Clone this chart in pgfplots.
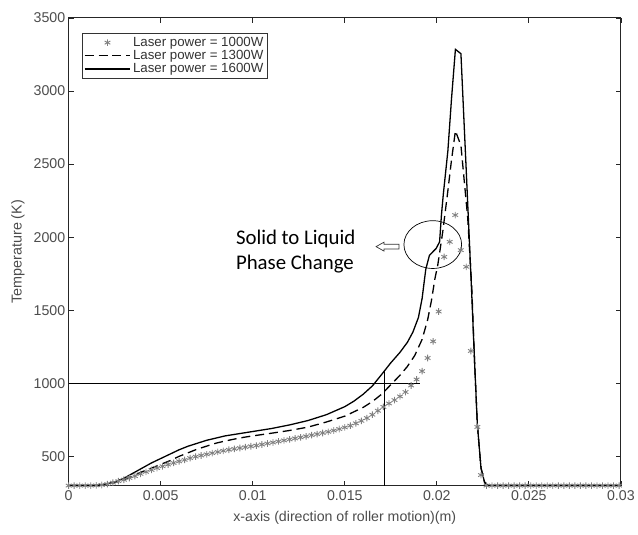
\documentclass[border=0pt]{standalone}
\usepackage{fontspec}
\setmainfont{Liberation Sans}
\newfontfamily\calfont{Carlito}
\usepackage{pgfplots}
\pgfplotsset{compat=1.18}
\begin{document}
\begin{tikzpicture}
\begin{axis}[
  name=ax,
  scale only axis, width=555bp, height=470bp,
  xmin=0, xmax=0.03, ymin=300, ymax=3500,
  xtick={0,0.005,0.01,0.015,0.02,0.025,0.03},
  xticklabels={0,0.005,0.01,0.015,0.02,0.025,0.03},
  ytick={500,1000,1500,2000,2500,3000,3500},
  scaled x ticks=false,
  /pgf/number format/assume math mode=true,
  /pgf/number format/set thousands separator={},
  tick align=inside, major tick length=5bp,
  xtick pos=both, ytick pos=both,
  axis line style={black!85, line width=0.9bp},
  tick style={black!85, line width=0.8bp},
  ticklabel style={font=\fontsize{14.3}{16}\selectfont, text=black!70},
  xticklabel style={yshift=-2bp},
  legend style={at={(0,1)}, anchor=north west, xshift=13bp, yshift=-15bp,
    font=\fontsize{13.4}{15}\selectfont, text=black!80, draw=black!80, line width=0.8bp,
    inner sep=2bp, row sep=-1.5bp, cells={anchor=west}},
  legend image code/.code={\draw[mark repeat=2,mark phase=2,#1] plot coordinates {(0bp,0bp) (23bp,0bp) (46bp,0bp)};},
]
% 1000 W (stars)
\addplot[only marks, mark=asterisk, mark size=3.3bp, color=black!50, mark options={line width=0.9bp}] coordinates {
(0.0000,300) (0.0003,300) (0.0006,300) (0.0009,300) (0.0012,300) (0.0015,301)
(0.0018,304) (0.0021,310) (0.0024,320) (0.0027,330) (0.0030,340) (0.0033,352)
(0.0036,365) (0.0039,380) (0.0042,394) (0.0045,407) (0.0048,420) (0.0051,432)
(0.0054,444) (0.0057,455) (0.0060,466) (0.0063,476) (0.0066,488) (0.0069,498)
(0.0072,506) (0.0075,514) (0.0078,522) (0.0081,530) (0.0084,538) (0.0087,545)
(0.0090,551) (0.0093,557) (0.0096,563) (0.0099,569) (0.0102,574) (0.0105,581)
(0.0108,588) (0.0111,595) (0.0114,602) (0.0117,609) (0.0120,616) (0.0123,623)
(0.0126,630) (0.0129,637) (0.0132,645) (0.0135,652) (0.0138,660) (0.0141,668)
(0.0144,677) (0.0147,687) (0.0150,698) (0.0153,710) (0.0156,726) (0.0159,743)
(0.0162,762) (0.0165,785) (0.0168,812) (0.0171,838) (0.0174,862) (0.0177,885)
(0.0180,910) (0.0183,940) (0.0186,985) (0.0189,1026) (0.0192,1083) (0.0195,1173)
(0.0198,1287) (0.0201,1491) (0.0204,1865) (0.0207,1968) (0.0210,2151) (0.0213,1911)
(0.0216,1797) (0.02185,1221) (0.0222,701) (0.0224,372) (0.0227,300) (0.0230,300)
(0.0233,300) (0.0236,300) (0.0239,300) (0.0242,300) (0.0245,300) (0.0248,300)
(0.0251,300) (0.0254,300) (0.0257,300) (0.0260,300) (0.0263,300) (0.0266,300)
(0.0269,300) (0.0272,300) (0.0275,300) (0.0278,300) (0.0281,300) (0.0284,300)
(0.0287,300) (0.0290,300) (0.0293,300) (0.0296,300) (0.0299,300)
};
\addlegendentry{Laser power = 1000W}
% 1300 W (dashed)
\addplot[black, line width=1.3bp, dash pattern=on 9bp off 5bp] coordinates {
(0,300) (0.0015,300) (0.002,308) (0.0025,320) (0.003,340) (0.0035,365) (0.004,395)
(0.0045,420) (0.005,445) (0.0055,470) (0.006,500) (0.0065,525) (0.007,550)
(0.0075,570) (0.008,590) (0.0085,605) (0.009,618) (0.0095,630) (0.010,640)
(0.011,658) (0.012,677) (0.013,700) (0.014,735) (0.015,775) (0.016,835)
(0.0165,875) (0.017,925) (0.0175,990) (0.018,1055) (0.0184,1115) (0.0188,1190)
(0.0192,1300) (0.0195,1434) (0.0197,1560) (0.0199,1718) (0.02005,1808)
(0.02032,2035) (0.02059,2307) (0.0208,2530) (0.02101,2727) (0.02131,2627)
(0.02168,2129) (0.0219,1650) (0.02205,1150) (0.0222,720) (0.0224,420)
(0.0226,320) (0.0228,300) (0.03,300)
};
\addlegendentry{Laser power = 1300W}
% 1600 W (solid)
\addplot[black, line width=1.3bp] coordinates {
(0,300) (0.001,300) (0.0015,302) (0.002,310) (0.0025,325) (0.003,350) (0.0035,385)
(0.004,420) (0.0045,455) (0.005,485) (0.0055,515) (0.006,545) (0.0065,570)
(0.007,590) (0.0075,610) (0.008,625) (0.0085,640) (0.009,650) (0.0095,660)
(0.010,670) (0.011,690) (0.012,715) (0.013,745) (0.014,785) (0.015,840)
(0.0155,878) (0.016,925) (0.0165,982) (0.017,1060) (0.0175,1140) (0.018,1212)
(0.0184,1280) (0.0187,1350) (0.019,1450) (0.0192,1580) (0.0194,1780)
(0.0196,1876) (0.01996,1922) (0.02015,1967) (0.02025,2150) (0.02035,2290)
(0.0206,2590) (0.0208,2950) (0.02101,3285) (0.02131,3255) (0.0216,2450)
(0.0219,1600) (0.02205,1150) (0.0222,720) (0.0224,420) (0.0226,320)
(0.0228,300) (0.03,300)
};
\addlegendentry{Laser power = 1600W}
% reference lines
\addplot[black, line width=0.7bp, forget plot] coordinates {(0,1000) (0.01908,1000)};
\addplot[black, line width=0.7bp, forget plot] coordinates {(0.01714,300) (0.01714,1094)};
% annotation
\draw[black, line width=0.7bp] (axis cs:0.01978,1949) ellipse [x radius=29bp, y radius=24bp];
\draw[black!80, line width=0.7bp] (axis cs:0.0167,1935) -- ++(8bp,4.5bp) -- ++(0bp,-2.2bp) -- ++(15bp,0bp) -- ++(0bp,-4.6bp) -- ++(-15bp,0bp) -- ++(0bp,-2.2bp) -- cycle;
\node[anchor=base west, inner sep=0pt, font=\calfont\fontsize{21}{25}\selectfont] at (axis cs:0.00908,1949) {Solid to Liquid};
\node[anchor=base west, inner sep=0pt, font=\calfont\fontsize{21}{25}\selectfont] at (axis cs:0.00908,1779) {Phase Change};
\end{axis}
\node[rotate=90, font=\fontsize{14.5}{16}\selectfont, text=black!70] at ([xshift=-51bp]ax.west) {Temperature (K)};
\node[font=\fontsize{14.3}{16}\selectfont, text=black!70] at ([yshift=-32bp]ax.south) {x-axis (direction of roller motion)(m)};
\path ([xshift=-69bp,yshift=-49bp]ax.south west) rectangle ([xshift=14bp,yshift=18bp]ax.north east);
\end{tikzpicture}
\end{document}
